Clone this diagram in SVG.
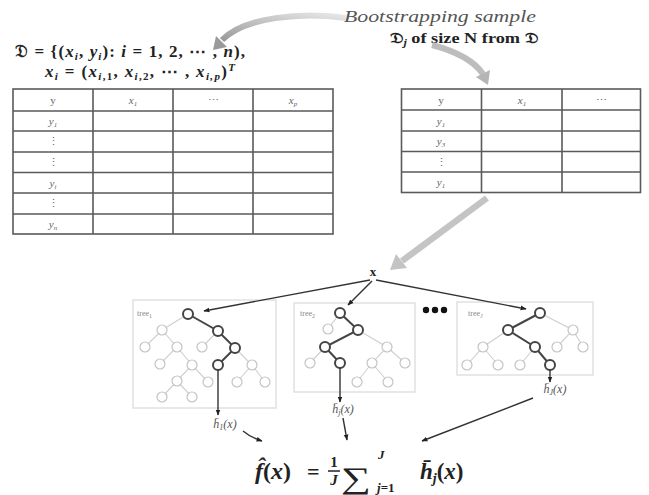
<svg xmlns="http://www.w3.org/2000/svg" width="649" height="495" viewBox="0 0 649 495">
<style>
.tb{stroke:#5a5a5a;stroke-width:1.6;fill:none}
.tt{font-family:"Liberation Serif",serif;font-size:11px;fill:#666;text-anchor:middle}
.m{font-family:"Liberation Serif","DejaVu Serif",serif;font-weight:bold;fill:#222}
.i{font-style:italic}
.box{fill:none;stroke:#dcdcdc;stroke-width:1.3}
.ge{stroke:#cfcfcf;stroke-width:1.1;fill:none}
.de{stroke:#444;stroke-width:2;fill:none}
.gn{fill:#fff;stroke:#c4c4c4;stroke-width:1.2}
.dn{fill:#fff;stroke:#444;stroke-width:2}
.con{stroke:#333;stroke-width:1.4;fill:none}
.lbl{font-family:"Liberation Serif",serif;font-size:8px;fill:#888}
.h{font-family:"Liberation Serif",serif;font-style:italic;font-size:12px;fill:#555}
</style>
<defs>
<marker id="ah" viewBox="0 0 10 10" refX="9" refY="5" markerWidth="6" markerHeight="6" orient="auto" markerUnits="userSpaceOnUse">
<path d="M0,1 L10,5 L0,9 z" fill="#222"/>
</marker>
<linearGradient id="g1" x1="1" y1="0" x2="0" y2="1">
<stop offset="0" stop-color="#e6e6e6"/><stop offset="1" stop-color="#9a9a9a"/>
</linearGradient>
</defs>

<g id="header">
<text x="440" y="22" font-family="Liberation Serif,serif" font-style="italic" font-size="17" fill="#555" text-anchor="middle" textLength="192" lengthAdjust="spacingAndGlyphs">Bootstrapping sample</text>
<text x="390" y="43" class="m" font-size="15" textLength="148" lengthAdjust="spacingAndGlyphs">𝔇<tspan font-size="10" dy="3" class="i">j</tspan><tspan dy="-3"> of size N from 𝔇</tspan></text>
</g>

<g id="dataset-formula">
<text x="15" y="57" class="m" font-size="17" textLength="230">𝔇 = {(<tspan class="i">x</tspan><tspan class="i" font-size="11" dy="3">i</tspan><tspan dy="-3">, </tspan><tspan class="i">y</tspan><tspan class="i" font-size="11" dy="3">i</tspan><tspan dy="-3">): </tspan><tspan class="i">i</tspan> = 1, 2, ⋯ , <tspan class="i">n</tspan>),</text>
<text x="45" y="77" class="m" font-size="17" textLength="190"><tspan class="i">x</tspan><tspan class="i" font-size="11" dy="3">i</tspan><tspan dy="-3"> = (</tspan><tspan class="i">x</tspan><tspan class="i" font-size="11" dy="3">i</tspan><tspan font-size="11">,1</tspan><tspan dy="-3">, </tspan><tspan class="i">x</tspan><tspan class="i" font-size="11" dy="3">i</tspan><tspan font-size="11">,2</tspan><tspan dy="-3">, ⋯ , </tspan><tspan class="i">x</tspan><tspan class="i" font-size="11" dy="3">i</tspan><tspan font-size="11" class="i">,p</tspan><tspan dy="-3">)</tspan><tspan class="i" font-size="11" dy="-6">T</tspan></text>
</g>

<g id="table-D">
<rect x="13" y="89" width="320" height="145" class="tb"/>
<path class="tb" d="M93,89V234M173,89V234M253,89V234M13,111H333M13,131H333M13,152H333M13,172.5H333M13,193H333M13,214H333"/>
<text class="tt" x="53" y="104">y</text>
<text class="tt i" x="133" y="104">x<tspan font-size="7" dy="2">1</tspan></text>
<text class="tt" x="213" y="104">⋯</text>
<text class="tt i" x="293" y="104">x<tspan font-size="7" dy="2">p</tspan></text>
<text class="tt i" x="53" y="125">y<tspan font-size="7" dy="2">1</tspan></text>
<text class="tt" x="53" y="145">⋮</text>
<text class="tt" x="53" y="166">⋮</text>
<text class="tt i" x="53" y="187">y<tspan font-size="7" dy="2">i</tspan></text>
<text class="tt" x="53" y="207">⋮</text>
<text class="tt i" x="53" y="228">y<tspan font-size="7" dy="2">n</tspan></text>
</g>

<g id="table-Dj">
<rect x="401.5" y="89" width="239" height="103.5" class="tb"/>
<path class="tb" d="M481.5,89V192.5M562,89V192.5M401.5,110H640.5M401.5,131H640.5M401.5,151.5H640.5M401.5,172H640.5"/>
<text class="tt" x="441" y="104" font-size="13">y</text>
<text class="tt i" x="522" y="104">x<tspan font-size="7" dy="2">1</tspan></text>
<text class="tt" x="601" y="104">⋯</text>
<text class="tt i" x="441" y="125">y<tspan font-size="7" dy="2">1</tspan></text>
<text class="tt i" x="441" y="145">y<tspan font-size="7" dy="2">3</tspan></text>
<text class="tt" x="441" y="166">⋮</text>
<text class="tt i" x="441" y="186">y<tspan font-size="7" dy="2">1</tspan></text>
</g>

<g id="gray-arrows">
<path d="M346,18 C300,12 245,17 222,40" stroke="url(#g1)" stroke-width="6" fill="none"/>
<polygon points="213,50 227,47 216,36" fill="#9a9a9a"/>
<path d="M432,45 Q470,55 483,74" stroke="#bdbdbd" stroke-width="6" fill="none"/>
<polygon points="488,85 490,70 476,77" fill="#b5b5b5"/>
<path d="M487,198 L402,261" stroke="#c4c4c4" stroke-width="6.5" fill="none"/>
<polygon points="390,270 407,268 396,254" fill="#c4c4c4"/>
</g>

<g id="x-node">
<text x="373" y="276" class="m" font-size="13" text-anchor="middle">x</text>
</g>

<g id="tree1">
<rect x="133" y="300" width="143" height="108" class="box"/>
<text x="137" y="316" class="lbl">tree<tspan font-size="6" dy="2">1</tspan></text>
<path class="ge" d="M188,314L162,330L145,347M162,330L177,347L160,364M177,347L192,365L177,381L162,397M177,381L192,397M192,365L208,382M218,331L202,347M235,348L252,365L237,382M252,365L265,382"/>
<path class="de" d="M188,314L218,331L235,348L218,365"/>
<g class="gn"><circle cx="162" cy="330" r="5"/><circle cx="145" cy="347" r="5"/><circle cx="177" cy="347" r="5"/><circle cx="160" cy="364" r="5"/><circle cx="192" cy="365" r="5"/><circle cx="177" cy="381" r="5"/><circle cx="162" cy="397" r="5"/><circle cx="192" cy="397" r="5"/><circle cx="208" cy="382" r="5"/><circle cx="202" cy="347" r="5"/><circle cx="252" cy="365" r="5"/><circle cx="237" cy="382" r="5"/><circle cx="265" cy="382" r="5"/></g>
<g class="dn"><circle cx="188" cy="314" r="5"/><circle cx="218" cy="331" r="5"/><circle cx="235" cy="348" r="5"/><circle cx="218" cy="365" r="5"/></g>
</g>

<g id="tree2">
<rect x="294" y="303" width="121" height="89" class="box"/>
<text x="300" y="316" class="lbl">tree<tspan font-size="6" dy="2">2</tspan></text>
<path class="ge" d="M340,313L328,329M325,347L310,363M358,330L387,347L372,363L357,382M372,363L388,382M387,347L405,363"/>
<path class="de" d="M340,313L358,330L325,347L340,363"/>
<g class="gn"><circle cx="328" cy="329" r="5"/><circle cx="310" cy="363" r="5"/><circle cx="387" cy="347" r="5"/><circle cx="372" cy="363" r="5"/><circle cx="405" cy="363" r="5"/><circle cx="357" cy="382" r="5"/><circle cx="388" cy="382" r="5"/></g>
<g class="dn"><circle cx="340" cy="313" r="5"/><circle cx="358" cy="330" r="5"/><circle cx="325" cy="347" r="5"/><circle cx="340" cy="363" r="5"/></g>
</g>

<g id="ellipsis">
<circle cx="426" cy="310" r="3.2" fill="#111"/><circle cx="435" cy="310" r="3.2" fill="#111"/><circle cx="444" cy="310" r="3.2" fill="#111"/>
</g>

<g id="treeJ">
<rect x="457" y="302" width="136" height="73" class="box"/>
<text x="468" y="316" class="lbl">tree<tspan font-size="6" dy="2" class="i">J</tspan></text>
<path class="ge" d="M540,313L573,330L557,347M573,330L583,347M508,330L483,347L467,365M483,347L498,365M535,347L520,365"/>
<path class="de" d="M540,313L508,330L535,347L550,365"/>
<g class="gn"><circle cx="573" cy="330" r="5"/><circle cx="557" cy="347" r="5"/><circle cx="583" cy="347" r="5"/><circle cx="483" cy="347" r="5"/><circle cx="467" cy="365" r="5"/><circle cx="498" cy="365" r="5"/><circle cx="520" cy="365" r="5"/></g>
<g class="dn"><circle cx="540" cy="313" r="5"/><circle cx="508" cy="330" r="5"/><circle cx="535" cy="347" r="5"/><circle cx="550" cy="365" r="5"/></g>
</g>

<g id="h-labels">
<text x="225" y="428" class="h" text-anchor="middle">h̄<tspan font-size="8" dy="2">1</tspan><tspan dy="-2">(x)</tspan></text>
<text x="343" y="413" class="h" text-anchor="middle">h̄<tspan font-size="8" dy="2">j</tspan><tspan dy="-2">(x)</tspan></text>
<text x="555" y="393" class="h" text-anchor="middle">h̄<tspan font-size="8" dy="2">J</tspan><tspan dy="-2">(x)</tspan></text>
</g>

<g id="connectors">
<path class="con" marker-end="url(#ah)" d="M370,280L204,311"/>
<path class="con" marker-end="url(#ah)" d="M372,281L348,305"/>
<path class="con" marker-end="url(#ah)" d="M376,280L526,309"/>
<path class="con" marker-end="url(#ah)" d="M218,370L218,415"/>
<path class="con" marker-end="url(#ah)" d="M340,368L340,402"/>
<path class="con" marker-end="url(#ah)" d="M550,370L550,382"/>
<path class="con" marker-end="url(#ah)" d="M243,431Q250,437 262,441"/>
<path class="con" marker-end="url(#ah)" d="M343,418L347,440"/>
<path class="con" marker-end="url(#ah)" d="M533,398L422,441"/>
</g>

<g id="formula">
<text x="255" y="479" class="m" font-size="24"><tspan class="i">f̂</tspan>(<tspan class="i">x</tspan>)</text>
<text x="307" y="479" class="m" font-size="22">=</text>
<text x="334" y="467" class="m" font-size="15" text-anchor="middle">1</text>
<line x1="328" y1="471" x2="340" y2="471" stroke="#222" stroke-width="1.5"/>
<text x="334" y="485" class="m i" font-size="15" text-anchor="middle">J</text>
<text transform="translate(341,488) scale(1.4,1)" font-family="Liberation Serif,serif" font-size="30" fill="#222">∑</text>
<text x="378" y="459" class="m i" font-size="13">J</text>
<text x="377" y="492" class="m" font-size="13"><tspan class="i">j</tspan>=1</text>
<text x="420" y="479" class="m" font-size="23"><tspan class="i">h̄</tspan><tspan class="i" font-size="14" dy="4">j</tspan><tspan dy="-4">(</tspan><tspan class="i">x</tspan>)</text>
</g>
</svg>
